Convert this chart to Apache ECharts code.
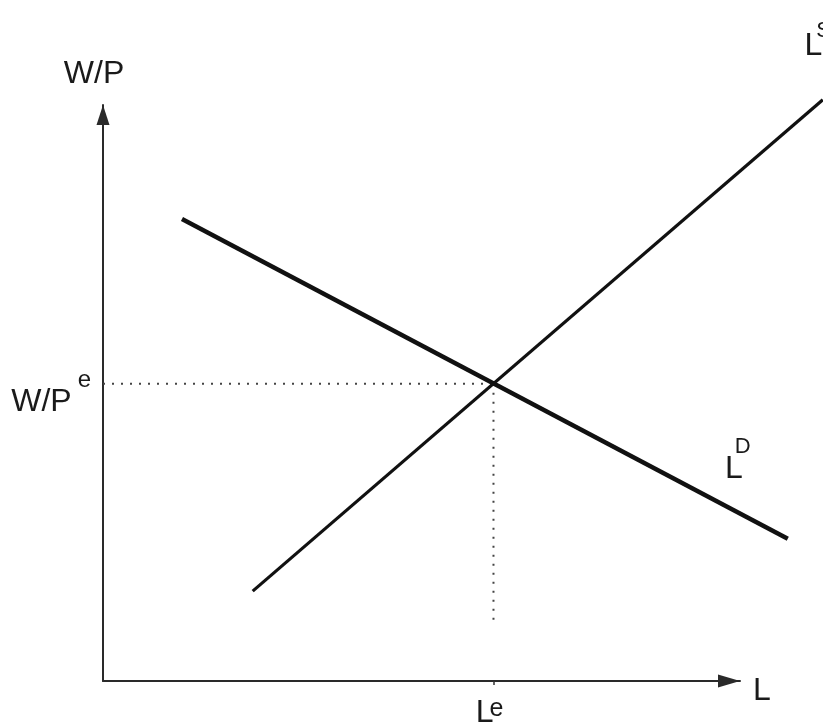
<!DOCTYPE html>
<html>
<head>
<meta charset="utf-8">
<script src="https://cdn.jsdelivr.net/npm/echarts@6/dist/echarts.min.js"></script>
<style>
html,body{margin:0;padding:0;background:#fff;}
#main{width:823px;height:723px;}
</style>
</head>
<body>
<div id="main"></div>
<script>
// axis range
var xRange = [0, 10];
var yRange = [0, 10];
// labour demand curve L^D (end points)
var demandPts = [[1.24, 8.02], [10.75, 2.47]];
// labour supply curve L^S (end points)
var supplyPts = [[2.35, 1.56], [11.30, 10.09]];
// equilibrium: employment and real wage
var eqL = 6.13;
var eqW = 5.16;
// where the vertical guide stops
var guideBottom = 1.06;

var W = 823, H = 723;
var gLeft = 103, gRight = 83, gTop = 105, gBottom = 42;
// the curves run past the arrow heads, so they sit on a wider hidden grid with the same scale
var wideXMax = xRange[1] * (W - gLeft) / (W - gLeft - gRight);
var wideYMax = yRange[1] * (H - gBottom) / (H - gTop - gBottom);

var font = "'Liberation Sans', Arial, sans-serif";
var ink = '#1a1a1a';
var rich = {
    m: {fontSize: 32, lineHeight: 32, fontFamily: font, color: ink, padding: [35, 0, 0, 0]},
    n: {fontSize: 32, lineHeight: 32, fontFamily: font, color: ink},
    s: {fontSize: 22, lineHeight: 22, fontFamily: font, color: ink, verticalAlign: 'top', padding: [0, 0, 0, -8]},
    r: {fontSize: 22, lineHeight: 22, fontFamily: font, color: ink, verticalAlign: 'top', padding: [7, 0, 0, -6]},
    p: {fontSize: 24, lineHeight: 24, fontFamily: font, color: ink, verticalAlign: 'top', padding: [0, 0, 0, 6]},
    e: {fontSize: 25, lineHeight: 25, fontFamily: font, color: ink, verticalAlign: 'top', padding: [0, 0, 0, -4]}
};

var chart = echarts.init(document.getElementById('main'));

var option = {
    animation: false,
    backgroundColor: '#fff',
    grid: [
        {left: gLeft, right: gRight, top: gTop, bottom: gBottom, outerBoundsMode: 'none'},
        {left: gLeft, right: 0, top: 0, bottom: gBottom, outerBoundsMode: 'none'}
    ],
    xAxis: [{
        type: 'value',
        gridIndex: 0,
        min: xRange[0],
        max: xRange[1],
        splitLine: {show: false},
        axisLine: {
            show: true,
            symbol: ['none', 'triangle'],
            symbolSize: [13, 22],
            symbolOffset: [0, -11],
            lineStyle: {color: '#2a2a2a', width: 2}
        },
        axisTick: {show: true, customValues: [eqL], length: 4, lineStyle: {color: '#333', width: 1.5}},
        axisLabel: {
            customValues: [eqL],
            margin: 16,
            formatter: function () { return '{n|L}{e|e}'; },
            rich: rich,
            padding: [0, 8, 0, 0]
        },
        name: 'L',
        nameLocation: 'end',
        nameGap: 13,
        nameTextStyle: {fontSize: 32, fontFamily: font, color: ink, verticalAlign: 'top', lineHeight: 20}
    }, {
        type: 'value',
        gridIndex: 1,
        min: xRange[0],
        max: wideXMax,
        show: false
    }],
    yAxis: [{
        type: 'value',
        gridIndex: 0,
        min: yRange[0],
        max: yRange[1],
        splitLine: {show: false},
        axisLine: {
            show: true,
            symbol: ['none', 'triangle'],
            symbolSize: [13, 20],
            symbolOffset: [0, -10],
            lineStyle: {color: '#2a2a2a', width: 2}
        },
        axisTick: {show: false},
        axisLabel: {
            customValues: [eqW],
            margin: 12,
            formatter: function () { return '{m|W/P}{p|e}'; },
            rich: rich,
            padding: [2, 0, 0, 0]
        },
        name: 'W/P',
        nameLocation: 'end',
        nameGap: 15,
        nameTextStyle: {fontSize: 32, fontFamily: font, color: ink, padding: [0, 18, 0, 0]}
    }, {
        type: 'value',
        gridIndex: 1,
        min: yRange[0],
        max: wideYMax,
        show: false
    }],
    series: [
        {
            // horizontal guide at the equilibrium wage
            type: 'line',
            data: [[xRange[0], eqW], [eqL, eqW]],
            symbol: 'none',
            silent: true,
            lineStyle: {color: '#444', width: 2, type: [2, 7]}
        },
        {
            // vertical guide at equilibrium employment
            type: 'line',
            data: [[eqL, eqW], [eqL, guideBottom]],
            symbol: 'none',
            silent: true,
            lineStyle: {color: '#444', width: 2, type: [2, 7]}
        },
        {
            name: 'LD',
            type: 'line',
            xAxisIndex: 1,
            yAxisIndex: 1,
            data: demandPts,
            symbol: 'none',
            silent: true,
            lineStyle: {color: '#111', width: 4.5},
            markPoint: {
                symbol: 'circle',
                symbolSize: 0,
                silent: true,
                data: [{coord: demandPts[1]}],
                label: {
                    show: true,
                    offset: [-50, -87],
                    formatter: function () { return '{m|L}{s|D}'; },
                    rich: rich
                }
            }
        },
        {
            name: 'LS',
            type: 'line',
            xAxisIndex: 1,
            yAxisIndex: 1,
            data: supplyPts,
            symbol: 'none',
            silent: true,
            lineStyle: {color: '#111', width: 3.2},
            markPoint: {
                symbol: 'circle',
                symbolSize: 0,
                silent: true,
                data: [{coord: supplyPts[1]}],
                label: {
                    show: true,
                    offset: [-5, -71],
                    formatter: function () { return '{m|L}{r|S}'; },
                    rich: rich
                }
            }
        }
    ]
};

chart.setOption(option);
</script>
</body>
</html>
